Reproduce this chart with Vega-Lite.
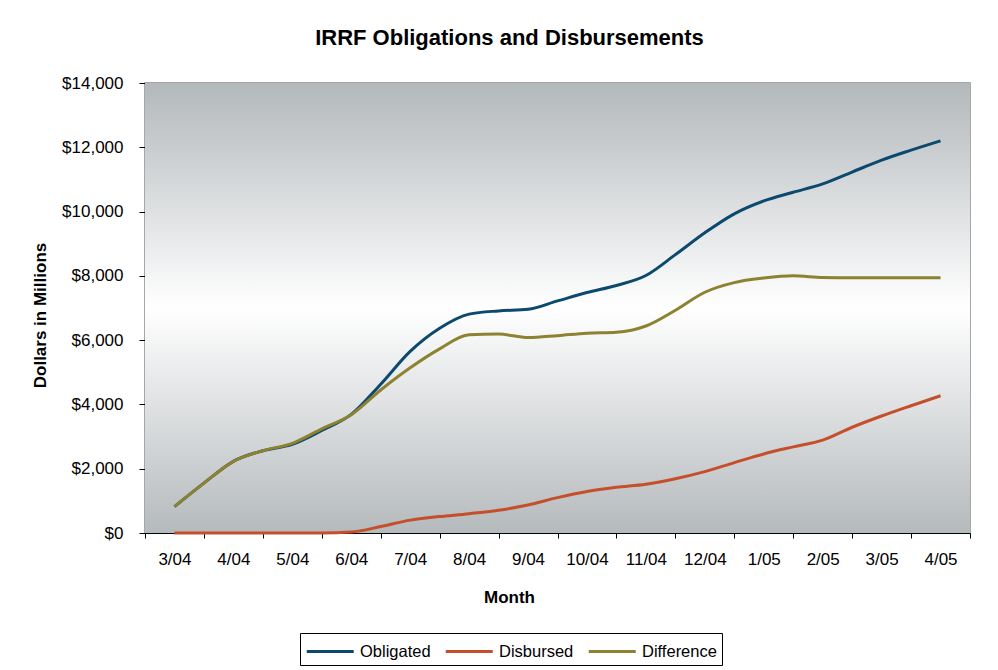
{
  "$schema": "https://vega.github.io/schema/vega-lite/v6.json",
  "width": 825,
  "height": 450,
  "autosize": {"type": "none"},
  "padding": {"left": 145, "top": 83, "right": 28, "bottom": 137},
  "background": "white",
  "config": {
    "font": "Liberation Sans",
    "view": {"stroke": "#8a8a8a", "strokeWidth": 1.5},
    "axis": {"grid": false, "labelOverlap": false, "labelFlush": false, "domainColor": "black", "tickColor": "black", "labelColor": "black", "titleColor": "black", "labelFont": "Liberation Sans", "titleFont": "Liberation Sans"}
  },
  "title": {
    "text": "IRRF Obligations and Disbursements",
    "font": "Liberation Sans",
    "fontSize": 22,
    "fontWeight": "bold",
    "color": "black",
    "anchor": "middle",
    "frame": "group",
    "baseline": "alphabetic",
    "offset": 7,
    "dx": -48
  },
  "datasets": {
    "irrf": [
      {"m": 0, "s": "Obligated", "v": 820}, {"m": 0.5, "s": "Obligated", "v": 1550}, {"m": 1, "s": "Obligated", "v": 2230}, {"m": 1.5, "s": "Obligated", "v": 2560}, {"m": 2, "s": "Obligated", "v": 2760}, {"m": 2.5, "s": "Obligated", "v": 3190}, {"m": 3, "s": "Obligated", "v": 3690}, {"m": 3.5, "s": "Obligated", "v": 4630}, {"m": 4, "s": "Obligated", "v": 5650}, {"m": 4.5, "s": "Obligated", "v": 6370}, {"m": 5, "s": "Obligated", "v": 6810}, {"m": 5.5, "s": "Obligated", "v": 6910}, {"m": 6, "s": "Obligated", "v": 6960}, {"m": 6.5, "s": "Obligated", "v": 7220}, {"m": 7, "s": "Obligated", "v": 7480}, {"m": 7.5, "s": "Obligated", "v": 7700}, {"m": 8, "s": "Obligated", "v": 8010}, {"m": 8.5, "s": "Obligated", "v": 8660}, {"m": 9, "s": "Obligated", "v": 9340}, {"m": 9.5, "s": "Obligated", "v": 9930}, {"m": 10, "s": "Obligated", "v": 10330}, {"m": 10.5, "s": "Obligated", "v": 10600}, {"m": 11, "s": "Obligated", "v": 10860}, {"m": 11.5, "s": "Obligated", "v": 11230}, {"m": 12, "s": "Obligated", "v": 11600}, {"m": 12.5, "s": "Obligated", "v": 11910}, {"m": 13, "s": "Obligated", "v": 12200},
      {"m": 0, "s": "Disbursed", "v": 0}, {"m": 0.5, "s": "Disbursed", "v": 0}, {"m": 1, "s": "Disbursed", "v": 0}, {"m": 1.5, "s": "Disbursed", "v": 0}, {"m": 2, "s": "Disbursed", "v": 0}, {"m": 2.5, "s": "Disbursed", "v": 0}, {"m": 3, "s": "Disbursed", "v": 30}, {"m": 3.5, "s": "Disbursed", "v": 200}, {"m": 4, "s": "Disbursed", "v": 400}, {"m": 4.5, "s": "Disbursed", "v": 510}, {"m": 5, "s": "Disbursed", "v": 600}, {"m": 5.5, "s": "Disbursed", "v": 710}, {"m": 6, "s": "Disbursed", "v": 870}, {"m": 6.5, "s": "Disbursed", "v": 1100}, {"m": 7, "s": "Disbursed", "v": 1290}, {"m": 7.5, "s": "Disbursed", "v": 1420}, {"m": 8, "s": "Disbursed", "v": 1520}, {"m": 8.5, "s": "Disbursed", "v": 1690}, {"m": 9, "s": "Disbursed", "v": 1910}, {"m": 9.5, "s": "Disbursed", "v": 2190}, {"m": 10, "s": "Disbursed", "v": 2460}, {"m": 10.5, "s": "Disbursed", "v": 2680}, {"m": 11, "s": "Disbursed", "v": 2890}, {"m": 11.5, "s": "Disbursed", "v": 3290}, {"m": 12, "s": "Disbursed", "v": 3640}, {"m": 12.5, "s": "Disbursed", "v": 3960}, {"m": 13, "s": "Disbursed", "v": 4270},
      {"m": 0, "s": "Difference", "v": 820}, {"m": 0.5, "s": "Difference", "v": 1550}, {"m": 1, "s": "Difference", "v": 2230}, {"m": 1.5, "s": "Difference", "v": 2560}, {"m": 2, "s": "Difference", "v": 2790}, {"m": 2.5, "s": "Difference", "v": 3240}, {"m": 3, "s": "Difference", "v": 3680}, {"m": 3.5, "s": "Difference", "v": 4450}, {"m": 4, "s": "Difference", "v": 5140}, {"m": 4.5, "s": "Difference", "v": 5730}, {"m": 5, "s": "Difference", "v": 6170}, {"m": 5.5, "s": "Difference", "v": 6190}, {"m": 6, "s": "Difference", "v": 6080}, {"m": 6.5, "s": "Difference", "v": 6140}, {"m": 7, "s": "Difference", "v": 6215}, {"m": 7.5, "s": "Difference", "v": 6245}, {"m": 8, "s": "Difference", "v": 6440}, {"m": 8.5, "s": "Difference", "v": 6930}, {"m": 9, "s": "Difference", "v": 7490}, {"m": 9.5, "s": "Difference", "v": 7790}, {"m": 10, "s": "Difference", "v": 7930}, {"m": 10.5, "s": "Difference", "v": 8000}, {"m": 11, "s": "Difference", "v": 7950}, {"m": 11.5, "s": "Difference", "v": 7940}, {"m": 12, "s": "Difference", "v": 7940}, {"m": 12.5, "s": "Difference", "v": 7940}, {"m": 13, "s": "Difference", "v": 7940}
    ]
  },
  "encoding": {
    "x": {
      "field": "m",
      "type": "quantitative",
      "scale": {"domain": [-0.5, 13.5], "nice": false, "zero": false},
      "axis": {
        "title": "Month",
        "titleFontSize": 17,
        "titleFontWeight": "bold",
        "titleX": 364,
        "titleY": 69,
        "titleBaseline": "alphabetic",
        "values": [-0.5, 0.5, 1.5, 2.5, 3.5, 4.5, 5.5, 6.5, 7.5, 8.5, 9.5, 10.5, 11.5, 12.5, 13.5],
        "labelExpr": "datum.value > 13 ? '' : (datum.value < 9 ? (datum.value + 3.5) + '/04' : (datum.value - 8.5) + '/05')",
        "labelOffset": 29.46,
        "labelAlign": "center",
        "labelFontSize": 17,
        "labelPadding": 13,
        "labelOverlap": false,
        "labelFlush": false,
        "labelBound": false,
        "tickSize": 5,
        "domainColor": "black"
      }
    },
    "y": {
      "field": "v",
      "type": "quantitative",
      "scale": {"domain": [0, 14000], "nice": false},
      "axis": {
        "title": "Dollars in Millions",
        "titleFontSize": 17,
        "titleFontWeight": "bold",
        "titleX": -96,
        "titleY": 232,
        "values": [0, 2000, 4000, 6000, 8000, 10000, 12000, 14000],
        "format": "$,.0f",
        "labelFontSize": 17,
        "labelPadding": 16,
        "tickSize": 6
      }
    }
  },
  "layer": [
    {
      "data": {"values": [{"m": -0.5, "m2": 13.5, "v": 0, "v2": 14000}]},
      "mark": {
        "type": "rect",
        "color": {"gradient": "linear", "x1": 0, "y1": 0, "x2": 0, "y2": 1, "stops": [
          {"offset": 0, "color": "#b3b8bb"},
          {"offset": 0.5, "color": "#ffffff"},
          {"offset": 1, "color": "#b5babd"}
        ]}
      },
      "encoding": {
        "x2": {"field": "m2"},
        "y2": {"field": "v2"}
      }
    },
    {
      "data": {"name": "irrf"},
      "mark": {"type": "line", "strokeWidth": 3, "interpolate": "monotone"},
      "encoding": {
        "color": {
          "field": "s",
          "type": "nominal",
          "scale": {"domain": ["Obligated", "Disbursed", "Difference"], "range": ["#0b4a6e", "#c64f2b", "#8d8230"]},
          "legend": {
            "title": null,
            "orient": "none",
            "legendX": 155,
            "legendY": 550,
            "direction": "horizontal",
            "columns": 3,
            "strokeColor": "black",
            "fillColor": "white",
            "padding": 5,
            "symbolType": "M-1,0H3",
            "symbolSize": 552,
            "symbolStrokeWidth": 3,
            "labelFontSize": 16.5,
            "labelColor": "black",
            "labelOffset": 28,
            "columnPadding": 8
          }
        }
      }
    }
  ]
}
